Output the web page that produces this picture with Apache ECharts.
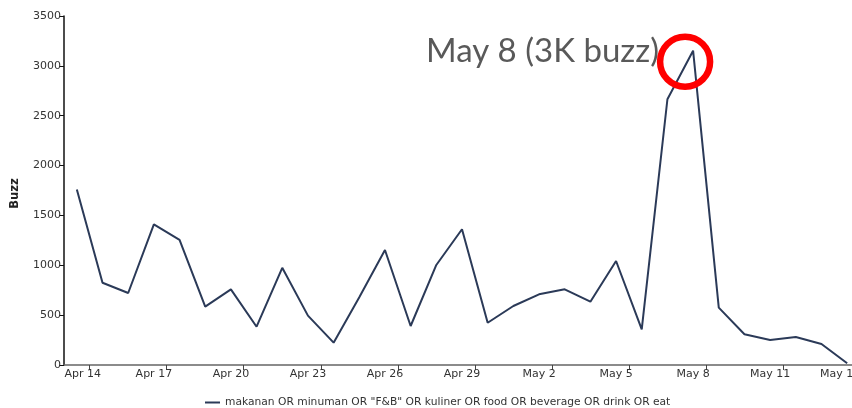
<!DOCTYPE html>
<html>
<head>
<meta charset="utf-8">
<script src="https://cdn.jsdelivr.net/npm/echarts@6/dist/echarts.min.js"></script>
<style>
  html, body { margin: 0; padding: 0; background: #fff; }
  #buzzChart { width: 852px; height: 408px; }
</style>
</head>
<body>
<div id="buzzChart"></div>
<script>
var days = [
  'Apr 14', 'Apr 15', 'Apr 16', 'Apr 17', 'Apr 18', 'Apr 19', 'Apr 20', 'Apr 21',
  'Apr 22', 'Apr 23', 'Apr 24', 'Apr 25', 'Apr 26', 'Apr 27', 'Apr 28', 'Apr 29',
  'Apr 30', 'May 1', 'May 2', 'May 3', 'May 4', 'May 5', 'May 6', 'May 7',
  'May 8', 'May 9', 'May 10', 'May 11', 'May 12', 'May 13', 'May 14'
];
var buzz = [
  1760, 825, 722, 1411, 1254, 585, 759, 384,
  975, 495, 224, 680, 1153, 391, 1003, 1361,
  424, 592, 709, 759, 635, 1043, 358, 2665,
  3152, 575, 308, 251, 281, 211, 17
];
var xLabels = ['Apr 14', 'Apr 17', 'Apr 20', 'Apr 23', 'Apr 26', 'Apr 29', 'May 2', 'May 5', 'May 8', 'May 11', 'May 14'];
var yTicks = [0, 500, 1000, 1500, 2000, 2500, 3000, 3500];
var seriesName = 'makanan OR minuman OR "F&B" OR kuliner OR food OR beverage OR drink OR eat';
var peakDay = 'May 8';
var peakNote = 'May 8 (3K buzz)';

var buzzChart = echarts.init(document.getElementById('buzzChart'));

// day index -> value pairs, x is the day number
var points = buzz.map(function (v, i) { return [i, v]; });
var labelPos = xLabels.map(function (d) { return days.indexOf(d); });
// ticks sit on the right edge of each labelled day
var tickPos = labelPos.map(function (i) { return i + 0.5; });
var peakIndex = days.indexOf(peakDay);

var axisFont = { fontFamily: 'DejaVu Sans', fontSize: 11, color: '#333' };

var buzzOptions = {
  animation: false,
  grid: { left: 64, right: -8, top: 16, bottom: 43, outerBoundsMode: 'none' },
  legend: {
    left: 200,
    top: 392,
    icon: 'rect',
    itemWidth: 15,
    itemHeight: 2,
    itemGap: 4,
    textStyle: { fontFamily: 'DejaVu Sans', fontSize: 10.7, color: '#333' },
    data: [seriesName]
  },
  xAxis: {
    type: 'value',
    min: -0.5,
    max: days.length - 0.5,
    axisLine: { show: true, onZero: false, lineStyle: { color: '#666', width: 1.5 } },
    axisTick: { show: true, length: 5, customValues: tickPos, lineStyle: { color: '#444' } },
    axisLabel: Object.assign({
      customValues: labelPos,
      margin: 4,
      showMinLabel: true,
      showMaxLabel: true,
      formatter: function (v) {
        var name = days[Math.round(v)];
        if (v === labelPos[0]) return '{first|' + name + '}';
        if (v === labelPos[labelPos.length - 1]) return '{last|' + name + '}';
        return name;
      },
      rich: {
        first: { fontFamily: 'DejaVu Sans', fontSize: 11, color: '#333', padding: [0, 0, 0, 12] },
        last: { fontFamily: 'DejaVu Sans', fontSize: 11, color: '#333', padding: [0, 14, 0, 0] }
      }
    }, axisFont),
    splitLine: { show: false }
  },
  yAxis: {
    type: 'value',
    min: yTicks[0],
    max: yTicks[yTicks.length - 1],
    interval: 500,
    name: 'Buzz',
    nameLocation: 'middle',
    nameGap: 43,
    nameTextStyle: { fontFamily: 'DejaVu Sans', fontSize: 11.5, fontWeight: 'bold', color: '#222', padding: [0, 6, 0, 0] },
    axisLine: { show: true, onZero: false, lineStyle: { color: '#111', width: 1.5 } },
    axisTick: { show: true, length: 5, lineStyle: { color: '#111' } },
    axisLabel: Object.assign({ margin: 3, formatter: function (v) { return String(v); } }, axisFont),
    splitLine: { show: false }
  },
  series: [
    {
      name: seriesName,
      type: 'line',
      data: points,
      symbol: 'none',
      lineStyle: { color: '#2b3a58', width: 2 },
      itemStyle: { color: '#2b3a58' },
      markPoint: {
        silent: true,
        symbol: 'circle',
        symbolSize: 50,
        symbolOffset: [-8, 11],
        itemStyle: { color: 'rgba(0,0,0,0)', borderColor: '#ff0000', borderWidth: 6.5 },
        label: { show: false },
        data: [{ coord: [peakIndex, buzz[peakIndex]] }]
      }
    }
  ],
  graphic: [
    {
      type: 'text',
      left: 426,
      top: 35,
      z: 1,
      style: {
        text: peakNote,
        fontFamily: 'Lato',
        fontSize: 33,
        fill: '#595959'
      }
    }
  ]
};

buzzChart.setOption(buzzOptions);
</script>
</body>
</html>
